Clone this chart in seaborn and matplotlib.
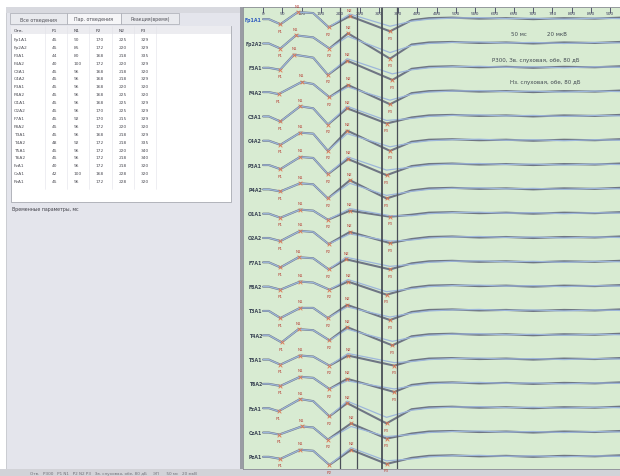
import pandas as pd
import seaborn as sns
import matplotlib.pyplot as plt
from matplotlib.patches import Rectangle

# channels and peak latencies (ms), as in the table on the left
channels = ['Fp1A1', 'Fp2A2', 'F3A1', 'F4A2', 'C3A1', 'C4A2', 'P3A1', 'P4A2', 'O1A1', 'O2A2',
            'F7A1', 'F8A2', 'T3A1', 'T4A2', 'T5A1', 'T6A2', 'FzA1', 'CzA1', 'PzA1']
p1_ms = [45, 45, 44, 40, 45, 45, 45, 45, 45, 45, 45, 45, 45, 48, 45, 45, 40, 42, 45]
n1_ms = [90, 85, 80, 100, 96, 96, 96, 96, 96, 96, 92, 96, 96, 92, 96, 96, 96, 100, 96]
p2_ms = [170, 172, 168, 172, 168, 168, 168, 168, 168, 170, 170, 172, 168, 172, 172, 172, 172, 168, 172]
n2_ms = [225, 220, 218, 220, 218, 218, 220, 225, 225, 225, 215, 220, 218, 218, 220, 218, 218, 228, 228]
p3_ms = [329, 329, 335, 329, 320, 329, 320, 320, 329, 329, 329, 320, 329, 335, 340, 340, 320, 320, 320]

# peak amplitudes (uV, positive drawn downwards)
amp_p1 = [5, 5, 2, 2, 5, 4, 4, 2, 4, 3, 5, 3, 7, 7, 5, 2, 3, 2, 2]
amp_n1 = [-7, -8, -13, -10, -10, -8, -8, -6, -4, -7, -5, -5, -3, -6, -4, -7, -9, -6, -7]
amp_n1_late = [-6, -6, -10, -8, -8, -7, -7, -5, -3, -6, -4, -4, -3, -5, -3, -6, -7, -5, -6]
amp_p2 = [8, 5, 7, 5, 8, 10, 9, 9, 6, 6, 7, 3, 7, 5, 6, 5, 8, 7, 8]
amp_n2 = [-3, -10, -7, -7, -8, -10, -6, -9, -3, -6, -3, -5, -6, -8, -4, -5, -5, -9, -7]
amp_p3 = [12, 15, 12, 12, 7, 10, 10, 9, 3, 5, 7, 8, 9, 10, 6, 8, 15, 6, 7]
# second (overlaid) run
amp_n2_b = [-5, -7, -9, -5, -10, -7, -8, -6, -5, -4, -5, -7, -4, -6, -6, -3, -7, -6, -9]
amp_p3_b = [7, 9, 6, 8, 4, 6, 5, 6, 2, 3, 4, 5, 6, 6, 3, 5, 9, 4, 4]

# late part of the traces
n1_late_ms = 130
tail_ms = [385, 430, 490, 560, 630, 700, 780, 860, 925]
tail_a = [1, -1, -1.5, -0.5, -1, 0, -1, -0.5, -1.5]
tail_b = [2, 0, -1, -1.5, -0.5, -1, 0, -1, -0.5]

window_ms = [200, 243, 308, 347]
time_ticks = list(range(0, 901, 50))
uv_per_row = 24

rows = []
for i, ch in enumerate(channels):
    runs = {'a': (amp_n2[i], amp_p3[i], tail_a), 'b': (amp_n2_b[i], amp_p3_b[i], tail_b)}
    for run, (n2, p3, tail) in runs.items():
        times = [0, 15, p1_ms[i], n1_ms[i], n1_late_ms, p2_ms[i], n2_ms[i], p3_ms[i]] + tail_ms
        vals = [0, 0, amp_p1[i], amp_n1[i], amp_n1_late[i], amp_p2[i], n2, p3] + tail
        for t, v in zip(times, vals):
            rows.append({'ch': ch, 'run': run, 't': t, 'y': i + v / uv_per_row})
df = pd.DataFrame(rows)

peaks = []
for i, ch in enumerate(channels):
    for name, lat, amp in [('P1', p1_ms, amp_p1), ('N1', n1_ms, amp_n1), ('P2', p2_ms, amp_p2),
                           ('N2', n2_ms, amp_n2), ('P3', p3_ms, amp_p3)]:
        peaks.append({'name': name, 't': lat[i], 'y': i + amp[i] / uv_per_row})
pk = pd.DataFrame(peaks)

sns.set_style('white')
plt.rcParams['font.family'] = ['DejaVu Sans']

fig = plt.figure(figsize=(6.2, 4.77), dpi=100)

# window frame / left panel drawn in pixel coordinates
bg = fig.add_axes([0, 0, 1, 1])
bg.set_xlim(0, 620)
bg.set_ylim(477, 0)
bg.axis('off')
bg.add_patch(Rectangle((6, 8), 234, 462, fc='#e4e5ec', ec='#c4c6cc', lw=0.6))
bg.add_patch(Rectangle((6, 8), 234, 6, fc='#d8d9df', ec='none'))
for x0, w, lab, fc in [(10, 57, 'Все отведения', '#e9eaee'), (67, 54, 'Пар. отведения', '#f6f6f8'),
                       (121, 58, 'Реакция(время)', '#e9eaee')]:
    bg.add_patch(Rectangle((x0, 14), w, 11, fc=fc, ec='#a8aab2', lw=0.5))
    bg.text(x0 + w / 2, 19.5, lab, fontsize=3.4, ha='center', va='center', color='#505058')
bg.add_patch(Rectangle((11, 27), 220, 176, fc='white', ec='#a8aab2', lw=0.6))
bg.add_patch(Rectangle((11, 27), 220, 8, fc='#ececf0', ec='none'))
col_x = [14, 52, 74, 96, 119, 141]
for x in [45, 67, 89, 112, 134, 156]:
    bg.plot([x, x], [27, 190], color='#e2e2e8', lw=0.4)
for x, h in zip(col_x, ['Отв.', 'P1', 'N1', 'P2', 'N2', 'P3']):
    bg.text(x, 31.5, h, fontsize=3.2, va='center', color='#404048')
for i, ch in enumerate(channels):
    yy = 40 + i * 7.9
    vals = [ch, p1_ms[i], n1_ms[i], p2_ms[i], n2_ms[i], p3_ms[i]]
    for x, v in zip(col_x, vals):
        bg.text(x, yy, str(v), fontsize=3.2, va='center', color='#505058')
bg.text(12, 210, 'Временные параметры, мс', fontsize=3.4, va='center', color='#404048')
bg.add_patch(Rectangle((240, 8), 3, 462, fc='#9a9ca4', ec='none'))
bg.add_patch(Rectangle((0, 470), 620, 7, fc='#d2d3d8', ec='none'))
bg.text(30, 474, 'Отв.   Р300   Р1 N1   Р2 N2 Р3   Зв. слуховая, обе, 80 дБ     ЭП      50 мс   20 мкВ',
        fontsize=3, va='center', color='#707078')

# evoked potentials
ax = fig.add_axes([243 / 620, 7 / 477, 377 / 620, 462 / 477])
ax.set_facecolor('#d8ebd2')
sns.lineplot(data=df, x='t', y='y', hue='run', units='ch', estimator=None, sort=False,
             palette={'a': '#6f7684', 'b': '#9db6da'}, size='run', sizes={'a': 1.5, 'b': 0.9},
             legend=False, ax=ax)
sns.scatterplot(data=pk, x='t', y='y', marker='x', color='#e0764f', s=7, linewidth=0.6,
                legend=False, ax=ax, zorder=4)
for _, r in pk.iterrows():
    off = 0.27 if r['name'].startswith('P') else -0.27
    ax.text(r['t'], r['y'] + off, r['name'], fontsize=3, ha='center', va='center', color='#b8473c')
for i, ch in enumerate(channels):
    ax.text(-3, i, ch, fontsize=3.4, ha='right', va='center', weight='bold',
            color='#2f5cc0' if i == 0 else '#3c4656')
for k, x in enumerate(window_ms):
    ax.axvline(x, color='#4a4f58', lw=1.3 if k == 2 else 0.9)

ax.text(663, 0.58, '50 мс', fontsize=4, ha='center', va='center', color='#404850')
ax.text(762, 0.58, '20 мкВ', fontsize=4, ha='center', va='center', color='#404850')
ax.text(707, 1.64, 'P300, Зв. слуховая, обе, 80 дБ', fontsize=4, ha='center', va='center', color='#404850')
ax.text(730, 2.55, 'Нз. слуховая, обе, 80 дБ', fontsize=4, ha='center', va='center', color='#404850')

ax.set_xlim(-52, 925)
ax.set_ylim(18.5, -0.5)
ax.xaxis.tick_top()
ax.set_xticks(time_ticks)
ax.set_xticklabels([str(t) for t in time_ticks])
ax.tick_params(axis='x', direction='in', length=4, width=0.6, pad=-6, labelsize=3.2,
               colors='#404060')
ax.set_yticks([])
ax.set_xlabel('')
ax.set_ylabel('')
for s in ax.spines.values():
    s.set_color('#8a8c94')
    s.set_linewidth(0.6)

fig.savefig('out.png', dpi=100)
